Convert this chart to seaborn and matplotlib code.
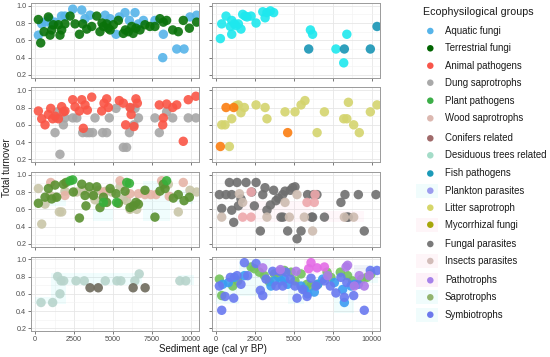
import matplotlib
matplotlib.use("Agg")
import matplotlib.pyplot as plt
import seaborn as sns
import pandas as pd
import numpy as np

# ---------------- data ----------------
aquatic_age = [214, 428, 642, 920, 1070, 1284, 1700, 1920, 2420, 3000, 3210, 3530, 4500, 4820, 5200, 5410,
               5780, 6060, 6420, 6640, 6960, 7700, 8240, 8200, 9100, 9570, 9950, 10380]
aquatic_turn = [0.66, 0.79, 0.81, 0.85, 0.78, 0.81, 0.88, 0.88, 0.96, 0.95, 0.85, 0.89, 0.89, 0.85, 0.67, 0.87,
                0.92, 0.83, 0.92, 0.79, 0.83, 0.83, 0.67, 0.40, 0.50, 0.50, 0.87, 0.89]
terrestrial_age = [214, 364, 578, 856, 963, 1070, 1177, 1500, 1600, 1710, 1920, 2250, 2570, 2850, 3060, 3320,
                   3640, 3960, 4170, 4390, 4600, 4820, 5030, 5350, 5670, 5990, 6210, 6480, 6740, 7060, 7380,
                   7700, 8020, 8240, 8450, 8840, 9200, 9520, 9910, 10380, 4300, 4700, 5800, 6300]
terrestrial_turn = [0.84, 0.57, 0.70, 0.87, 0.66, 0.72, 0.78, 0.78, 0.66, 0.72, 0.79, 0.88, 0.79, 0.67, 0.79, 0.73,
                    0.76, 0.88, 0.70, 0.76, 0.79, 0.72, 0.78, 0.83, 0.68, 0.70, 0.76, 0.74, 0.72, 0.78, 0.76,
                    0.76, 0.85, 0.81, 0.83, 0.72, 0.70, 0.83, 0.74, 0.81, 0.80, 0.74, 0.72, 0.68]

animal_age = [214, 428, 642, 856, 1006, 1130, 1284, 1500, 1710, 1820, 1920, 2420, 2570, 2850, 3000, 3210,
              3360, 3640, 3100, 4280, 4430, 4600, 4710, 5410, 5670, 5820, 6100, 6170, 6480, 6570, 6350,
              7980, 8240, 8200, 8450, 8840, 9100, 9520, 9840, 10330]
animal_turn = [0.76, 0.67, 0.60, 0.72, 0.79, 0.67, 0.70, 0.67, 0.81, 0.75, 0.76, 0.89, 0.81, 0.76, 0.89, 0.83,
               0.77, 0.92, 0.56, 0.76, 0.85, 0.90, 0.80, 0.88, 0.85, 0.60, 0.80, 0.72, 0.90, 0.85, 0.58,
               0.83, 0.68, 0.60, 0.84, 0.80, 0.83, 0.41, 0.89, 0.93]
dung_age = [1430, 1390, 1284, 1600, 1820, 1920, 2420, 2680, 3060, 3320, 3490, 3700, 3850, 4340, 4600, 4770,
            5200, 5670, 5880, 6060, 6170, 6420, 6350, 6640, 7700, 7980, 8450, 8840, 9840, 10330]
dung_turn = [0.75, 0.68, 0.51, 0.26, 0.60, 0.68, 0.68, 0.68, 0.51, 0.51, 0.51, 0.51, 0.68, 0.51, 0.51, 0.68,
             0.79, 0.34, 0.34, 0.51, 0.79, 0.79, 0.60, 0.68, 0.68, 0.51, 0.75, 0.68, 0.68, 0.68]

plant_age = [214, 642, 856, 1070, 1284, 1390, 1820, 1990, 2460, 2850, 3000, 3210, 3270, 3490, 3750, 3960,
             4170, 4390, 4600, 4820, 5200, 5350, 5780, 6100, 6310, 6480, 6640, 7060, 7700, 8020, 8240,
             8350, 8880, 9200, 9570, 9910]
plant_turn = [0.67, 0.74, 0.84, 0.72, 0.88, 0.74, 0.89, 0.91, 0.80, 0.50, 0.89, 0.76, 0.64, 0.86, 0.76, 0.86,
              0.62, 0.74, 0.68, 0.84, 0.78, 0.67, 0.81, 0.62, 0.64, 0.68, 0.66, 0.82, 0.51, 0.81, 0.89,
              0.84, 0.73, 0.77, 0.70, 0.74]
plant_b_age = [2250, 2420, 4390, 5890, 6060, 8450, 5240]
plant_b_turn = [0.93, 0.94, 0.68, 0.91, 0.90, 0.93, 0.68]
wood_age = [214, 428, 642, 963, 1284, 1560, 1710, 1920, 2680, 3100, 3640, 3850, 4070, 4560, 4920, 5460,
            5670, 5890, 6100, 6530, 8560, 9200, 9950, 10380]
wood_turn = [0.84, 0.43, 0.66, 0.76, 0.74, 0.57, 0.57, 0.81, 0.80, 0.82, 0.78, 0.71, 0.82, 0.81, 0.80, 0.86,
             0.72, 0.70, 0.60, 0.60, 0.89, 0.57, 0.82, 0.80]
wood_b_age = [1006, 1920, 4390, 5460, 6100, 6640, 7060, 7430, 7770, 8130, 8620, 9520]
wood_b_turn = [0.91, 0.76, 0.80, 0.93, 0.78, 0.78, 0.77, 0.77, 0.77, 0.93, 0.75, 0.91]

desiduous_age = [385, 1130, 1450, 1600, 1670, 1840, 2630, 3160, 4510, 5260, 5510, 6410, 6690, 9300, 9680]
desiduous_turn = [0.50, 0.50, 0.80, 0.60, 0.75, 0.75, 0.75, 0.75, 0.75, 0.75, 0.75, 0.75, 0.83, 0.75, 0.75]
conifers_age = [3530, 4060, 6300, 7070]
conifers_turn = [0.67, 0.67, 0.67, 0.67]

plankton_age = [278, 364, 642, 920, 1006, 1006, 1177, 1284, 1434, 1600, 1710, 1860, 1990, 2250, 2570, 3000,
                3150, 3270, 3490, 3700, 6060, 6200, 7700, 8400, 8200]
plankton_turn = [0.62, 0.79, 0.88, 0.76, 0.83, 0.67, 0.79, 0.77, 0.79, 0.73, 0.90, 0.88, 0.87, 0.88, 0.80, 0.93,
                 0.86, 0.92, 0.94, 0.92, 0.72, 0.67, 0.50, 0.67, 0.34]
fish_age = [5950, 8240, 9910, 10340]
fish_turn = [0.50, 0.50, 0.50, 0.76]

litter_age = [364, 578, 856, 1006, 1284, 1434, 1600, 1820, 2570, 3150, 3270, 4430, 5070, 5460, 5710, 6960,
              6490, 8200, 8400, 8500, 8840, 9200, 9910, 10340]
litter_turn = [0.60, 0.60, 0.35, 0.67, 0.82, 0.83, 0.74, 0.80, 0.83, 0.80, 0.67, 0.75, 0.75, 0.83, 0.88, 0.75,
               0.51, 0.67, 0.67, 0.86, 0.60, 0.51, 0.75, 0.83]
mycorrhizal_age = [278, 642, 1134, 4600]
mycorrhizal_turn = [0.35, 0.80, 0.80, 0.51]

fungal_age = [214, 364, 642, 856, 1006, 1006, 1134, 1350, 1434, 1600, 1926, 2290, 2460, 2570, 2846, 3000,
              3146, 3270, 3490, 3700, 3850, 4000, 4170, 4280, 4430, 4600, 4770, 4920, 5070, 5200, 5460,
              5880, 6200, 6270, 6480, 6960, 8020, 8280, 8400, 9140, 9520, 10270, 4300, 6140, 8500]
fungal_turn = [0.77, 0.61, 0.77, 0.91, 0.77, 0.59, 0.45, 0.91, 0.64, 0.72, 0.91, 0.80, 0.64, 0.91, 0.35, 0.77,
               0.85, 0.59, 0.65, 0.82, 0.70, 0.73, 0.51, 0.77, 0.81, 0.35, 0.82, 0.85, 0.86, 0.26, 0.35,
               0.77, 0.51, 0.77, 0.77, 0.51, 0.68, 0.77, 0.51, 0.77, 0.35, 0.77, 0.51, 0.51, 0.51]
insects_age = [364, 1500, 1710, 3270, 4430, 4710, 5200, 5670, 6200, 8240, 8840]
insects_turn = [0.51, 0.78, 0.68, 0.51, 0.68, 0.51, 0.77, 0.51, 0.35, 0.51, 0.51]
insects_b_age = [1710, 2250, 5840, 6310, 6360, 2250]
insects_b_turn = [0.51, 0.51, 0.68, 0.68, 0.77, 0.80]

symbio_age = [214, 364, 578, 920, 1134, 1350, 1600, 1820, 2030, 2570, 2846, 3000, 3210, 3640, 3850, 4070,
              4280, 4490, 4770, 5070, 5200, 5560, 5840, 6100, 6420, 6960, 7340, 7700, 8020, 8240, 8400,
              8840, 9140, 9520, 9910, 10340]
symbio_turn = [0.69, 0.41, 0.57, 0.79, 0.55, 0.81, 0.71, 0.96, 0.81, 0.95, 0.64, 0.58, 0.77, 0.86, 0.69, 0.86,
               0.69, 0.85, 0.77, 0.69, 0.55, 0.65, 0.57, 0.78, 0.69, 0.75, 0.69, 0.61, 0.79, 0.56, 0.73,
               0.58, 0.71, 0.41, 0.87, 0.87]
symbio_b_age = [428, 792, 1177, 1820, 3530, 4170, 4600, 5670, 5880, 6310, 6530, 6850, 7600, 8130, 8240, 8670,
                8880, 5460, 3750, 4390]
symbio_b_turn = [0.71, 0.73, 0.79, 0.81, 0.69, 0.75, 0.71, 0.65, 0.60, 0.62, 0.71, 0.77, 0.73, 0.65, 0.50, 0.69,
                 0.71, 0.69, 0.75, 0.77]
sapro_age = [214, 364, 1070, 1390, 2250, 2460, 2780, 3100, 3420, 3750, 4000, 4390, 4820, 5070, 5460, 5840,
             6100, 6530, 7130, 7380, 7980, 8450, 8770, 9350, 9690, 9950]
sapro_turn = [0.77, 0.58, 0.69, 0.75, 0.91, 0.89, 0.85, 0.81, 0.74, 0.83, 0.80, 0.87, 0.85, 0.75, 0.83, 0.71,
              0.69, 0.71, 0.85, 0.79, 0.85, 0.81, 0.75, 0.77, 0.79, 0.83]
patho_age = [3000, 4130, 5140, 7170, 8350, 8450, 8880, 9200, 9840, 9520]
patho_turn = [0.90, 0.88, 0.86, 0.81, 0.91, 0.93, 0.69, 0.81, 0.81, 0.69]
patho_b_age = [5950, 6100, 6490, 6960]
patho_b_turn = [0.89, 0.96, 0.90, 0.91]

# faint ribbon boxes per panel: (x0, x1, y0, y1)
ribbon_3L = [(0, 2000, 0.64, 0.72), (3750, 5030, 0.47, 0.60), (6950, 8670, 0.47, 0.93), (9100, 10150, 0.66, 0.82)]
ribbon_3R = [(1600, 6100, 0.45, 0.70), (6960, 9520, 0.45, 0.58)]
ribbon_4L = [(1030, 1990, 0.48, 0.84), (1990, 6900, 0.70, 0.84), (9150, 10200, 0.70, 0.82), (0, 1030, 0.48, 0.56)]
ribbon_4R_c = [(0, 1500, 0.48, 0.73), (1500, 3530, 0.58, 1.0), (3530, 4600, 0.66, 0.86),
               (4600, 5670, 0.48, 0.81), (7600, 8880, 0.38, 0.85), (8880, 10380, 0.73, 0.93)]
ribbon_4R_p = [(5670, 7600, 0.83, 1.0), (8880, 9900, 0.80, 0.93)]

legend_groups = ["Aquatic fungi", "Terrestrial fungi", "Animal pathogens", "Dung saprotrophs",
                 "Plant pathogens", "Wood saprotrophs", "Conifers related", "Desiduous trees related",
                 "Fish pathogens", "Plankton parasites", "Litter saprotroph", "Mycorrhizal fungi",
                 "Fungal parasites", "Insects parasites", "Pathotrophs", "Saprotrophs", "Symbiotrophs"]
legend_colors = ["#56b4e9", "#006400", "#f8554a", "#a9a9a9", "#3cae48", "#dcb8b0", "#a06a6a", "#a4dcc8",
                 "#1b9ab8", "#9c9cee", "#d6d66a", "#a6a60a", "#7a7a7a", "#d2bcb8", "#a682ea", "#92b46e",
                 "#6c78ec"]

# ---------------- build long table ----------------
series = [
    (0, 0, "Aquatic fungi", aquatic_age, aquatic_turn, "#56b4e9"),
    (0, 0, "Terrestrial fungi", terrestrial_age, terrestrial_turn, "#0a720a"),
    (1, 0, "Dung saprotrophs", dung_age, dung_turn, "#a6a6a6"),
    (1, 0, "Animal pathogens", animal_age, animal_turn, "#fa5546"),
    (2, 0, "Wood saprotrophs", wood_age, wood_turn, "#c9c6a8"),
    (2, 0, "Wood saprotrophs b", wood_b_age, wood_b_turn, "#e6b4a6"),
    (2, 0, "Plant pathogens", plant_age, plant_turn, "#5a9030"),
    (2, 0, "Plant pathogens b", plant_b_age, plant_b_turn, "#36b03a"),
    (3, 0, "Desiduous trees related", desiduous_age, desiduous_turn, "#b8d4cc"),
    (3, 0, "Conifers related", conifers_age, conifers_turn, "#6e6a5c"),
    (0, 1, "Plankton parasites", plankton_age, plankton_turn, "#1ee8ee"),
    (0, 1, "Fish pathogens", fish_age, fish_turn, "#1895b5"),
    (1, 1, "Litter saprotroph", litter_age, litter_turn, "#d4d46e"),
    (1, 1, "Mycorrhizal fungi", mycorrhizal_age, mycorrhizal_turn, "#fb7d10"),
    (2, 1, "Fungal parasites", fungal_age, fungal_turn, "#6f6f6f"),
    (2, 1, "Insects parasites", insects_age, insects_turn, "#cdbcb0"),
    (2, 1, "Insects parasites b", insects_b_age, insects_b_turn, "#eea8ac"),
    (3, 1, "Saprotrophs", sapro_age, sapro_turn, "#74c25c"),
    (3, 1, "Symbiotrophs b", symbio_b_age, symbio_b_turn, "#3a9cf2"),
    (3, 1, "Symbiotrophs", symbio_age, symbio_turn, "#6979f0"),
    (3, 1, "Pathotrophs", patho_age, patho_turn, "#ae7ae8"),
    (3, 1, "Pathotrophs b", patho_b_age, patho_b_turn, "#e46ae6"),
]
rows = []
palette = {}
for r, c, key, ages, turns, col in series:
    palette[key] = col
    for a, t in zip(ages, turns):
        rows.append({"row": r, "col": c, "key": key, "age": a, "turnover": t})
df = pd.DataFrame(rows)

ribbons = {(2, 0): [(ribbon_3L, "#00e0e0")], (2, 1): [(ribbon_3R, "#ff80b0")],
           (3, 0): [(ribbon_4L, "#00e0e0")],
           (3, 1): [(ribbon_4R_c, "#00e0e0"), (ribbon_4R_p, "#ff60c0")]}

# ---------------- figure ----------------
sns.set_theme(style="white")
plt.rcParams['font.family'] = ['Liberation Sans', 'DejaVu Sans']
W, H = 550, 357
fig = plt.figure(figsize=(W / 100, H / 100), dpi=100)

col_x = [31, 212]
row_top = [3, 87.5, 172, 256.5]
pw, ph = 168, 74.5
xlim = (-260, 10530)
ylim = (0.171, 1.031)

for r in range(4):
    for c in range(2):
        ax = fig.add_axes([col_x[c] / W, 1 - (row_top[r] + ph) / H, pw / W, ph / H])
        ax.set_facecolor("white")
        for boxes, colr in ribbons.get((r, c), []):
            for (x0, x1, y0, y1) in boxes:
                ax.fill_between([x0, x1], [y0, y0], [y1, y1], color=colr, alpha=0.06, lw=0, zorder=1)
        sub = df[(df.row == r) & (df.col == c)]
        order = [s[2] for s in series if s[0] == r and s[1] == c]
        sns.scatterplot(data=sub, x="age", y="turnover", hue="key", hue_order=order, palette=palette,
                        s=46, alpha=0.9, edgecolor="none", linewidth=0, legend=False, ax=ax, zorder=3)
        ax.set_xlim(*xlim)
        ax.set_ylim(*ylim)
        ax.set_xticks([0, 2500, 5000, 7500, 10000])
        ax.set_xticks([1250, 3750, 6250, 8750], minor=True)
        ax.set_yticks([0.2, 0.4, 0.6, 0.8, 1.0])
        ax.set_yticks([0.3, 0.5, 0.7, 0.9], minor=True)
        ax.grid(True, which="major", color="#e6e6e6", lw=0.6, zorder=0)
        ax.grid(True, which="minor", color="#f2f2f2", lw=0.4, zorder=0)
        ax.set_axisbelow(True)
        for sp in ax.spines.values():
            sp.set_color("#9a9a9a")
            sp.set_linewidth(0.7)
        ax.tick_params(which="major", length=2.2, width=0.5, color="#444444", pad=1.2,
                       labelsize=5.2, labelcolor="#4d4d4d", bottom=True, left=True)
        ax.tick_params(which="minor", length=0)
        ax.set_yticklabels(["0.2", "0.4", "0.6", "0.8", "1.0"])
        ax.set_xticklabels(["0", "2500", "5000", "7500", "10000"])
        if c == 1:
            ax.tick_params(labelleft=False)
        if r != 3:
            ax.tick_params(labelbottom=False)
        ax.set_xlabel("")
        ax.set_ylabel("")

fig.text(212.5 / W, 1 - 349 / H, "Sediment age (cal yr BP)", ha="center", va="center", fontsize=7.0, color="#1a1a1a")
fig.text(7.5 / W, 1 - 168 / H, "Total turnover", ha="center", va="center", rotation=90, fontsize=7.0, color="#1a1a1a")

# ---------------- legend ----------------
lax = fig.add_axes([0, 0, 1, 1])
lax.set_xlim(0, W)
lax.set_ylim(H, 0)
lax.axis("off")
leg_y = [31, 48.3, 65.7, 82.7, 100.7, 118.3, 138.3, 155.3, 173.5, 190.7, 207.7, 224.7, 244, 261, 280.3, 297.3, 314.7]
leg_bg = {"Plankton parasites": "#f0fcfc", "Mycorrhizal fungi": "#fef5f8", "Insects parasites": "#fef5f8",
          "Pathotrophs": "#fdf1f8", "Saprotrophs": "#f0fcfc", "Symbiotrophs": "#f0fcfc"}
lax.text(423, 12, "Ecophysilogical groups", ha="left", va="center", fontsize=7.7, color="#1a1a1a")
for name, colr, y in zip(legend_groups, legend_colors, leg_y):
    if name in leg_bg:
        lax.add_patch(plt.Rectangle((416, y - 7), 22, 14, color=leg_bg[name], lw=0, zorder=1))
    lax.scatter([430.3], [y], s=22, color=colr, edgecolor="none", zorder=2)
    lax.text(445, y, name, ha="left", va="center", fontsize=6.9, color="#1a1a1a")

fig.savefig("out.png", dpi=100)
